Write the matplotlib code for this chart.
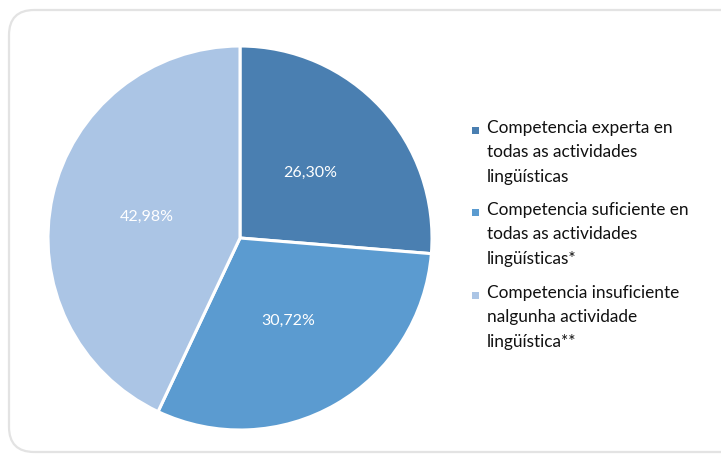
import matplotlib.pyplot as plt
from matplotlib.patches import FancyBboxPatch, Rectangle

categories = [
    "Competencia experta en\ntodas as actividades\nlingüísticas",
    "Competencia suficiente en\ntodas as actividades\nlingüísticas*",
    "Competencia insuficiente\nnalgunha actividade\nlingüística**",
]
values = [26.30, 30.72, 42.98]
colors = ["#4a7fb1", "#5b9bd0", "#abc5e5"]

W, H = 721, 454
fig = plt.figure(figsize=(W / 100, H / 100), dpi=100)
plt.rcParams["font.family"] = ["Lato", "DejaVu Sans"]

# marco redondeado
frame = FancyBboxPatch(
    (9 / W, 2 / H), 740 / W, 442 / H,
    boxstyle="round,pad=0,rounding_size=0.035",
    transform=fig.transFigure,
    facecolor="none", edgecolor="#e3e3e3", linewidth=1.6,
    mutation_aspect=W / H, zorder=-1,
)
fig.patches.append(frame)

# pie centered at (240, 238) px, radius ~192 px
cx, cy, r = 240, 238, 192
ax = fig.add_axes([(cx - r) / W, (H - cy - r) / H, 2 * r / W, 2 * r / H])
wedges, texts = ax.pie(
    values,
    colors=colors,
    startangle=90,
    counterclock=False,
    labels=[f"{v:.2f}%".replace(".", ",") for v in values],
    labeldistance=0.5,
    wedgeprops=dict(edgecolor="white", linewidth=2.2),
    textprops=dict(color="white", fontsize=11.5),
)
for t in texts:
    t.set_ha("center")
    t.set_va("center")
ax.set_aspect("auto")
ax.set_xlim(-1, 1)
ax.set_ylim(-1, 1)

# lenda
top_y = [130, 212, 295]
for lab, col, y in zip(categories, colors, top_y):
    fig.text(487 / W, 1 - (y - 10) / H, lab, ha="left", va="top",
             fontsize=12.4, color="#111111", linespacing=1.64)
    fig.patches.append(Rectangle((472 / W, 1 - (y + 4) / H), 7 / W, 7 / H,
                                 transform=fig.transFigure,
                                 facecolor=col, edgecolor="none"))

fig.savefig("out.png", dpi=100)
